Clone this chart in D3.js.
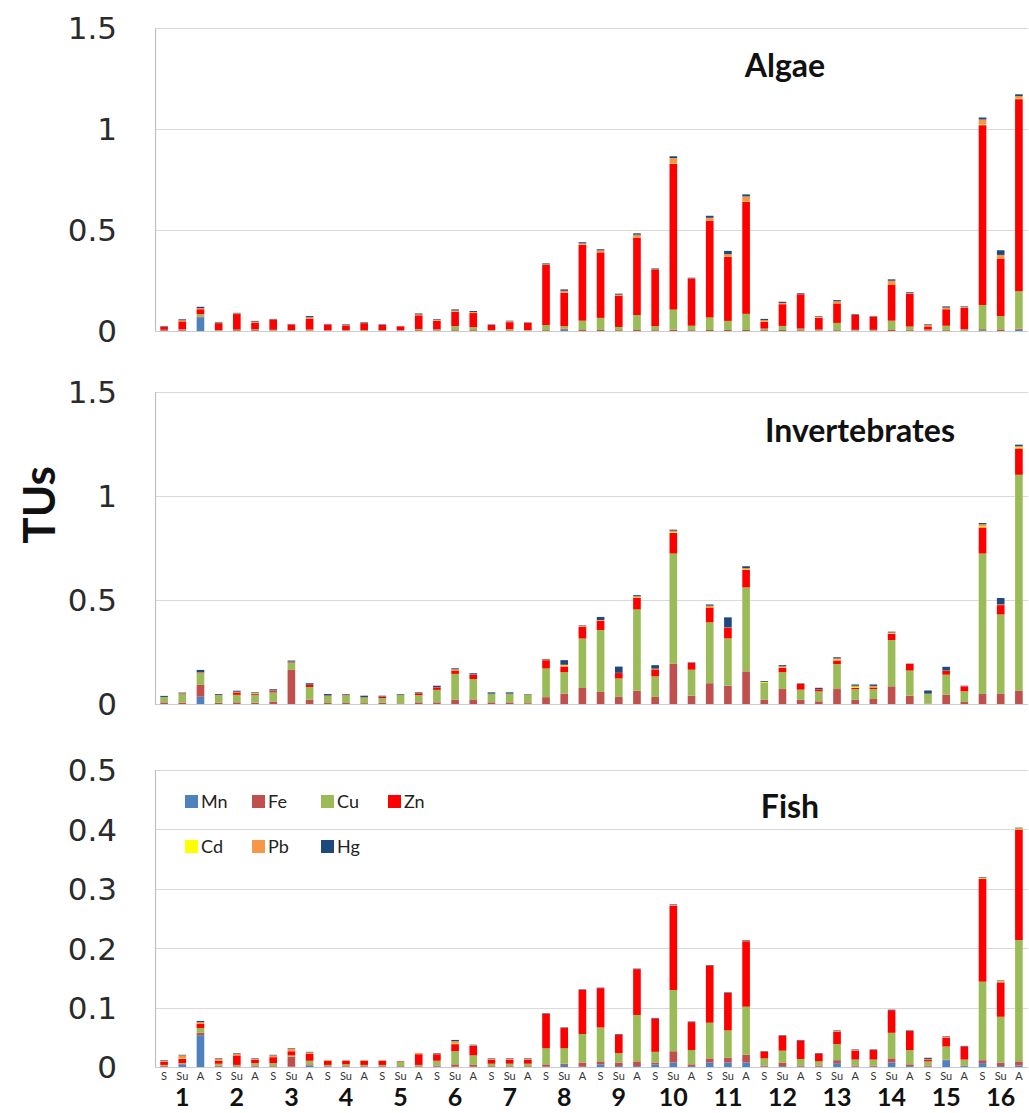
<!DOCTYPE html>
<html>
<head>
<meta charset="utf-8">
<script src="https://cdn.jsdelivr.net/npm/d3@7"></script>
<style>
  html, body { margin: 0; padding: 0; background: #fff; }
  svg { display: block; }
</style>
</head>
<body>
<script>
// Toxic units (TUs) of seven metals at 16 sites, three seasons each (S, Su, A)
const sites = ["1","2","3","4","5","6","7","8","9","10","11","12","13","14","15","16"];
const seasons = ["S", "Su", "A"];
const metals = ["Mn", "Fe", "Cu", "Zn", "Cd", "Pb", "Hg"];
const metalColors = ["#4F81BD", "#C0504D", "#9BBB59", "#FF0000", "#FFFF00", "#F79646", "#1F497D"];

// Algae
const algaeMn = [0,0,.068,0,0,0,0,0,0,0, 0,0,0,0,0,0,0,0,0,0, 0,0,.006,0,0,0,0,0,0,0, 0,0,0,0,0,0,0,0,0,0, 0,0,0,0,0,.004,0,.006];
const algaeFe = [.004,.004,.004,.003,.004,.004,.003,.003,.003,.002, .003,.003,.002,.002,.004,.003,.004,.004,.002,.003, .002,.004,.006,.005,.005,.004,.005,.004,.006,.004, .005,.005,.005,.004,.005,.004,.003,.004,.003,.003, .005,.004,.003,.004,.003,.005,.008,.006];
const algaeCu = [.002,.004,.012,.002,.003,.004,.003,.002,.004,.002, .002,.002,.002,.002,.006,.005,.02,.015,.003,.006, .003,.025,.012,.046,.06,.016,.074,.02,.1,.022, .062,.045,.08,.008,.02,.008,.004,.036,.003,.003, .046,.018,.004,.022,.006,.12,.066,.185];
const algaeZn = [.014,.04,.024,.034,.077,.034,.05,.027,.055,.028, .023,.034,.027,.019,.068,.042,.072,.07,.025,.035, .035,.298,.166,.376,.325,.156,.384,.281,.722,.234, .48,.318,.556,.034,.108,.17,.058,.097,.074,.065, .18,.162,.016,.082,.105,.891,.286,.952];
const algaeCd = [0,.001,.001,0,.001,.001,0,0,.001,0, 0,0,0,0,.001,.001,.001,.001,0,.001, 0,.001,.001,.001,.001,.001,.001,0,.002,0, .001,.001,.002,.001,.001,0,.001,.001,0,0, .002,.001,.001,.001,.001,.003,.002,.003];
const algaePb = [.002,.004,.004,.001,.002,.003,.001,.001,.005,.001, .002,.001,.001,.001,.003,.003,.004,.004,.001,.003, .001,.002,.008,.006,.008,.003,.013,.001,.027,.001, .013,.012,.024,.007,.005,.001,.005,.009,.001,.001, .016,.002,.005,.007,.003,.025,.015,.012];
const algaeHg = [.003,.005,.007,.003,.003,.004,.003,.002,.006,.002, .003,.003,.002,.001,.005,.004,.006,.005,.002,.003, .002,.005,.007,.006,.006,.005,.007,.004,.009,.003, .01,.016,.01,.006,.006,.004,.003,.006,.003,.002, .007,.005,.004,.006,.004,.01,.023,.009];

// Invertebrates
const invMn = [0,0,.035,0,0,0,0,0,0,0, 0,0,0,0,0,0,0,0,0,0, 0,0,0,0,0,0,0,0,0,0, 0,0,0,0,0,0,0,0,0,0, 0,0,0,0,0,0,0,0];
const invFe = [.008,.007,.057,.006,.008,.006,.012,.164,.02,.005, .005,.004,.006,.003,.008,.008,.02,.022,.008,.008, .004,.033,.05,.077,.058,.034,.064,.034,.193,.04, .1,.088,.157,.02,.072,.02,.013,.072,.02,.024, .085,.04,.002,.045,.01,.048,.048,.063];
const invCu = [.026,.04,.056,.036,.036,.038,.044,.036,.062,.033, .037,.026,.022,.04,.035,.06,.125,.098,.04,.04, .04,.138,.103,.238,.298,.089,.391,.099,.531,.125, .293,.228,.404,.081,.081,.049,.048,.12,.052,.048, .223,.121,.046,.096,.051,.676,.383,1.04];
const invZn = [0,.002,.002,.001,.012,.004,.006,.003,.01,.002, .002,.002,.007,.001,.009,.012,.017,.02,.001,.001, .001,.04,.028,.057,.045,.026,.056,.034,.1,.033, .072,.05,.085,.001,.022,.028,.01,.018,.006,.008, .03,.032,.001,.018,.024,.126,.045,.127];
const invCd = [0,.001,0,0,.001,.003,.001,0,0,0, 0,0,0,0,0,0,.002,0,0,0, 0,.001,.004,.001,.001,0,.002,.001,.004,0, .002,.001,.002,.003,.002,0,0,.003,.004,.002, .002,0,0,0,0,.005,.001,.005];
const invPb = [0,.001,.002,.001,.002,.001,.002,.001,.001,.001, .001,.001,.001,.001,.001,.001,.003,.002,.001,.001, .001,.002,.004,.002,.002,.001,.006,.002,.006,.001, .006,.001,.006,.001,.004,.001,.001,.006,.006,.005, .004,.001,.001,.002,.001,.01,.002,.006];
const invHg = [.005,.004,.012,.004,.005,.004,.006,.005,.007,.007, .003,.007,.004,.003,.003,.007,.005,.006,.006,.006, .002,.003,.022,.003,.015,.03,.005,.017,.005,.002, .006,.049,.009,.004,.006,.002,.006,.006,.006,.007, .004,.001,.015,.018,.002,.006,.031,.007];

// Fish
const fishMn = [.001,.005,.054,.001,.001,.001,.001,.001,.003,.001, .001,.001,.001,.001,.001,.001,.001,.001,.001,.001, .001,.001,.004,.001,.005,.002,.002,.005,.008,.002, .008,.008,.008,.001,.002,.001,.001,.007,.001,.001, .008,.002,.001,.012,.002,.007,.002,.003];
const fishFe = [.002,.001,.004,.002,.001,.002,.001,.017,.002,.001, .001,.001,.001,.001,.001,.002,.004,.003,.001,.001, .001,.004,.002,.007,.005,.006,.008,.003,.019,.003, .007,.008,.013,.002,.006,.002,.002,.005,.002,.002, .007,.003,.002,.001,.001,.005,.006,.007];
const fishCu = [.001,.001,.008,.003,.002,.004,.005,.002,.006,.002, .003,.002,.002,.007,.002,.008,.022,.016,.004,.004, .004,.027,.026,.048,.057,.016,.078,.018,.103,.024, .06,.046,.081,.012,.02,.011,.007,.027,.01,.01, .043,.024,.007,.022,.01,.132,.077,.204];
const fishZn = [.005,.007,.007,.005,.016,.006,.01,.007,.012,.007, .006,.007,.007,.001,.018,.011,.012,.016,.007,.007, .007,.058,.034,.074,.066,.031,.077,.056,.142,.047, .096,.063,.11,.011,.025,.031,.013,.021,.015,.016, .038,.032,.003,.015,.022,.173,.058,.186];
const fishCd = [0,.001,0,0,0,0,0,0,0,0, 0,0,0,0,0,0,.001,0,0,0, 0,0,0,0,0,0,0,0,0,0, 0,0,0,0,0,0,0,0,0,0, 0,0,0,0,0,.001,.001,.001];
const fishPb = [.002,.005,.003,.003,.003,.001,.003,.004,.002,.001, .001,.001,.001,0,.002,.001,.004,.001,.001,.001, .001,0,0,0,0,0,0,0,.001,0, 0,0,.001,0,0,0,0,.001,.001,0, 0,0,.001,.001,0,.001,.001,.001];
const fishHg = [.001,.001,.002,.001,.001,.001,.001,.001,.001,0, 0,0,0,0,0,.001,.002,.001,.001,.001, .001,.001,.001,.001,.001,.001,.001,.001,.001,.001, .001,.001,.001,.001,.001,.001,.001,.001,.001,.001, .001,.001,.002,.001,.001,.001,.001,.001];

const algaeTicks = [0, 0.5, 1, 1.5];
const invTicks = [0, 0.5, 1, 1.5];
const fishTicks = [0, 0.1, 0.2, 0.3, 0.4, 0.5];

const panels = [
  { title: "Algae", series: [algaeMn, algaeFe, algaeCu, algaeZn, algaeCd, algaePb, algaeHg],
    ticks: algaeTicks, top: 28.3, bottom: 331, titleX: 785, titleY: 77 },
  { title: "Invertebrates", series: [invMn, invFe, invCu, invZn, invCd, invPb, invHg],
    ticks: invTicks, top: 392.3, bottom: 704, titleX: 860, titleY: 442 },
  { title: "Fish", series: [fishMn, fishFe, fishCu, fishZn, fishCd, fishPb, fishHg],
    ticks: fishTicks, top: 770, bottom: 1067.3, titleX: 790, titleY: 818 }
];

const W = 1029, H = 1113;
const plotLeft = 155, plotRight = 1028;

const svg = d3.select("body").append("svg")
  .attr("width", W).attr("height", H)
  .style("font-family", "Lato, 'Open Sans', sans-serif");

// one bar per site/season pair
const barKeys = [];
sites.forEach(s => seasons.forEach(se => barKeys.push(s + "-" + se)));

const x = d3.scaleBand()
  .domain(barKeys)
  .range([plotLeft, plotRight])
  .paddingInner(0.58)
  .paddingOuter(0.29);

const stack = d3.stack().keys(metals);

panels.forEach(p => {
  const rows = barKeys.map((k, i) => {
    const r = { key: k };
    metals.forEach((m, j) => { r[m] = p.series[j][i]; });
    return r;
  });
  const layers = stack(rows);
  const yMax = p.ticks[p.ticks.length - 1];
  const y = d3.scaleLinear().domain([0, yMax]).range([p.bottom, p.top]);

  const g = svg.append("g");

  // horizontal gridlines
  g.append("g").selectAll("line")
    .data(p.ticks.filter(t => t > 0))
    .join("line")
    .attr("x1", plotLeft).attr("x2", plotRight)
    .attr("y1", d => Math.round(y(d)) + 0.5).attr("y2", d => Math.round(y(d)) + 0.5)
    .attr("stroke", "#d9d9d9").attr("stroke-width", 1.2);

  // y axis labels
  const fmt = v => (v === 0 ? "0" : String(+v.toFixed(1)));
  g.append("g").selectAll("text")
    .data(p.ticks)
    .join("text")
    .attr("x", 117)
    .attr("y", d => y(d))
    .attr("dy", "0.36em")
    .attr("text-anchor", "end")
    .style("font-family", "'DejaVu Sans', Verdana, sans-serif")
    .style("font-size", "31px")
    .attr("fill", "#2b2b2b")
    .text(fmt);

  // stacked bars
  g.append("g").selectAll("g")
    .data(layers)
    .join("g")
    .attr("fill", (d, i) => metalColors[i])
    .selectAll("rect")
    .data(d => d)
    .join("rect")
    .attr("x", d => x(d.data.key))
    .attr("width", x.bandwidth())
    .attr("y", d => y(d[1]))
    .attr("height", d => Math.max(0, y(d[0]) - y(d[1])));

  // axis lines
  g.append("line")
    .attr("x1", plotLeft + 0.5).attr("x2", plotLeft + 0.5)
    .attr("y1", p.top).attr("y2", p.bottom)
    .attr("stroke", "#bfbfbf").attr("stroke-width", 1.2);
  g.append("line")
    .attr("x1", plotLeft).attr("x2", plotRight)
    .attr("y1", Math.round(p.bottom) + 0.5).attr("y2", Math.round(p.bottom) + 0.5)
    .attr("stroke", "#c8ccd4").attr("stroke-width", 1.2);

  // panel title
  g.append("text")
    .attr("x", p.titleX).attr("y", p.titleY)
    .attr("text-anchor", "middle")
    .style("font-size", "32px").style("font-weight", "bold")
    .attr("fill", "#111")
    .text(p.title);
});

// season labels under the bottom panel
svg.append("g").selectAll("text")
  .data(barKeys)
  .join("text")
  .attr("x", d => x(d) + x.bandwidth() / 2)
  .attr("y", 1080)
  .attr("text-anchor", "middle")
  .style("font-size", "11px")
  .attr("fill", "#333")
  .text(d => d.split("-")[1]);

// site numbers
svg.append("g").selectAll("text")
  .data(sites)
  .join("text")
  .attr("x", s => x(s + "-Su") + x.bandwidth() / 2)
  .attr("y", 1106)
  .attr("text-anchor", "middle")
  .style("font-size", "25px").style("font-weight", "bold")
  .attr("fill", "#111")
  .text(s => s);

// y axis title
svg.append("text")
  .attr("transform", "translate(55,505) rotate(-90)")
  .attr("text-anchor", "middle")
  .style("font-size", "44px").style("font-weight", "bold")
  .attr("fill", "#111")
  .text("TUs");

// legend inside the fish panel
const legendItems = [
  { name: "Mn", x: 185, y: 795 }, { name: "Fe", x: 252, y: 795 },
  { name: "Cu", x: 321, y: 795 }, { name: "Zn", x: 388, y: 795 },
  { name: "Cd", x: 185, y: 840 }, { name: "Pb", x: 252, y: 840 },
  { name: "Hg", x: 321, y: 840 }
];
const lg = svg.append("g").selectAll("g")
  .data(legendItems)
  .join("g")
  .attr("transform", d => `translate(${d.x},${d.y})`);
lg.append("rect")
  .attr("width", 13).attr("height", 13)
  .attr("fill", d => metalColors[metals.indexOf(d.name)]);
lg.append("text")
  .attr("x", 16).attr("y", 6.5).attr("dy", "0.36em")
  .style("font-size", "18px")
  .attr("fill", "#222")
  .text(d => d.name);
</script>
</body>
</html>
